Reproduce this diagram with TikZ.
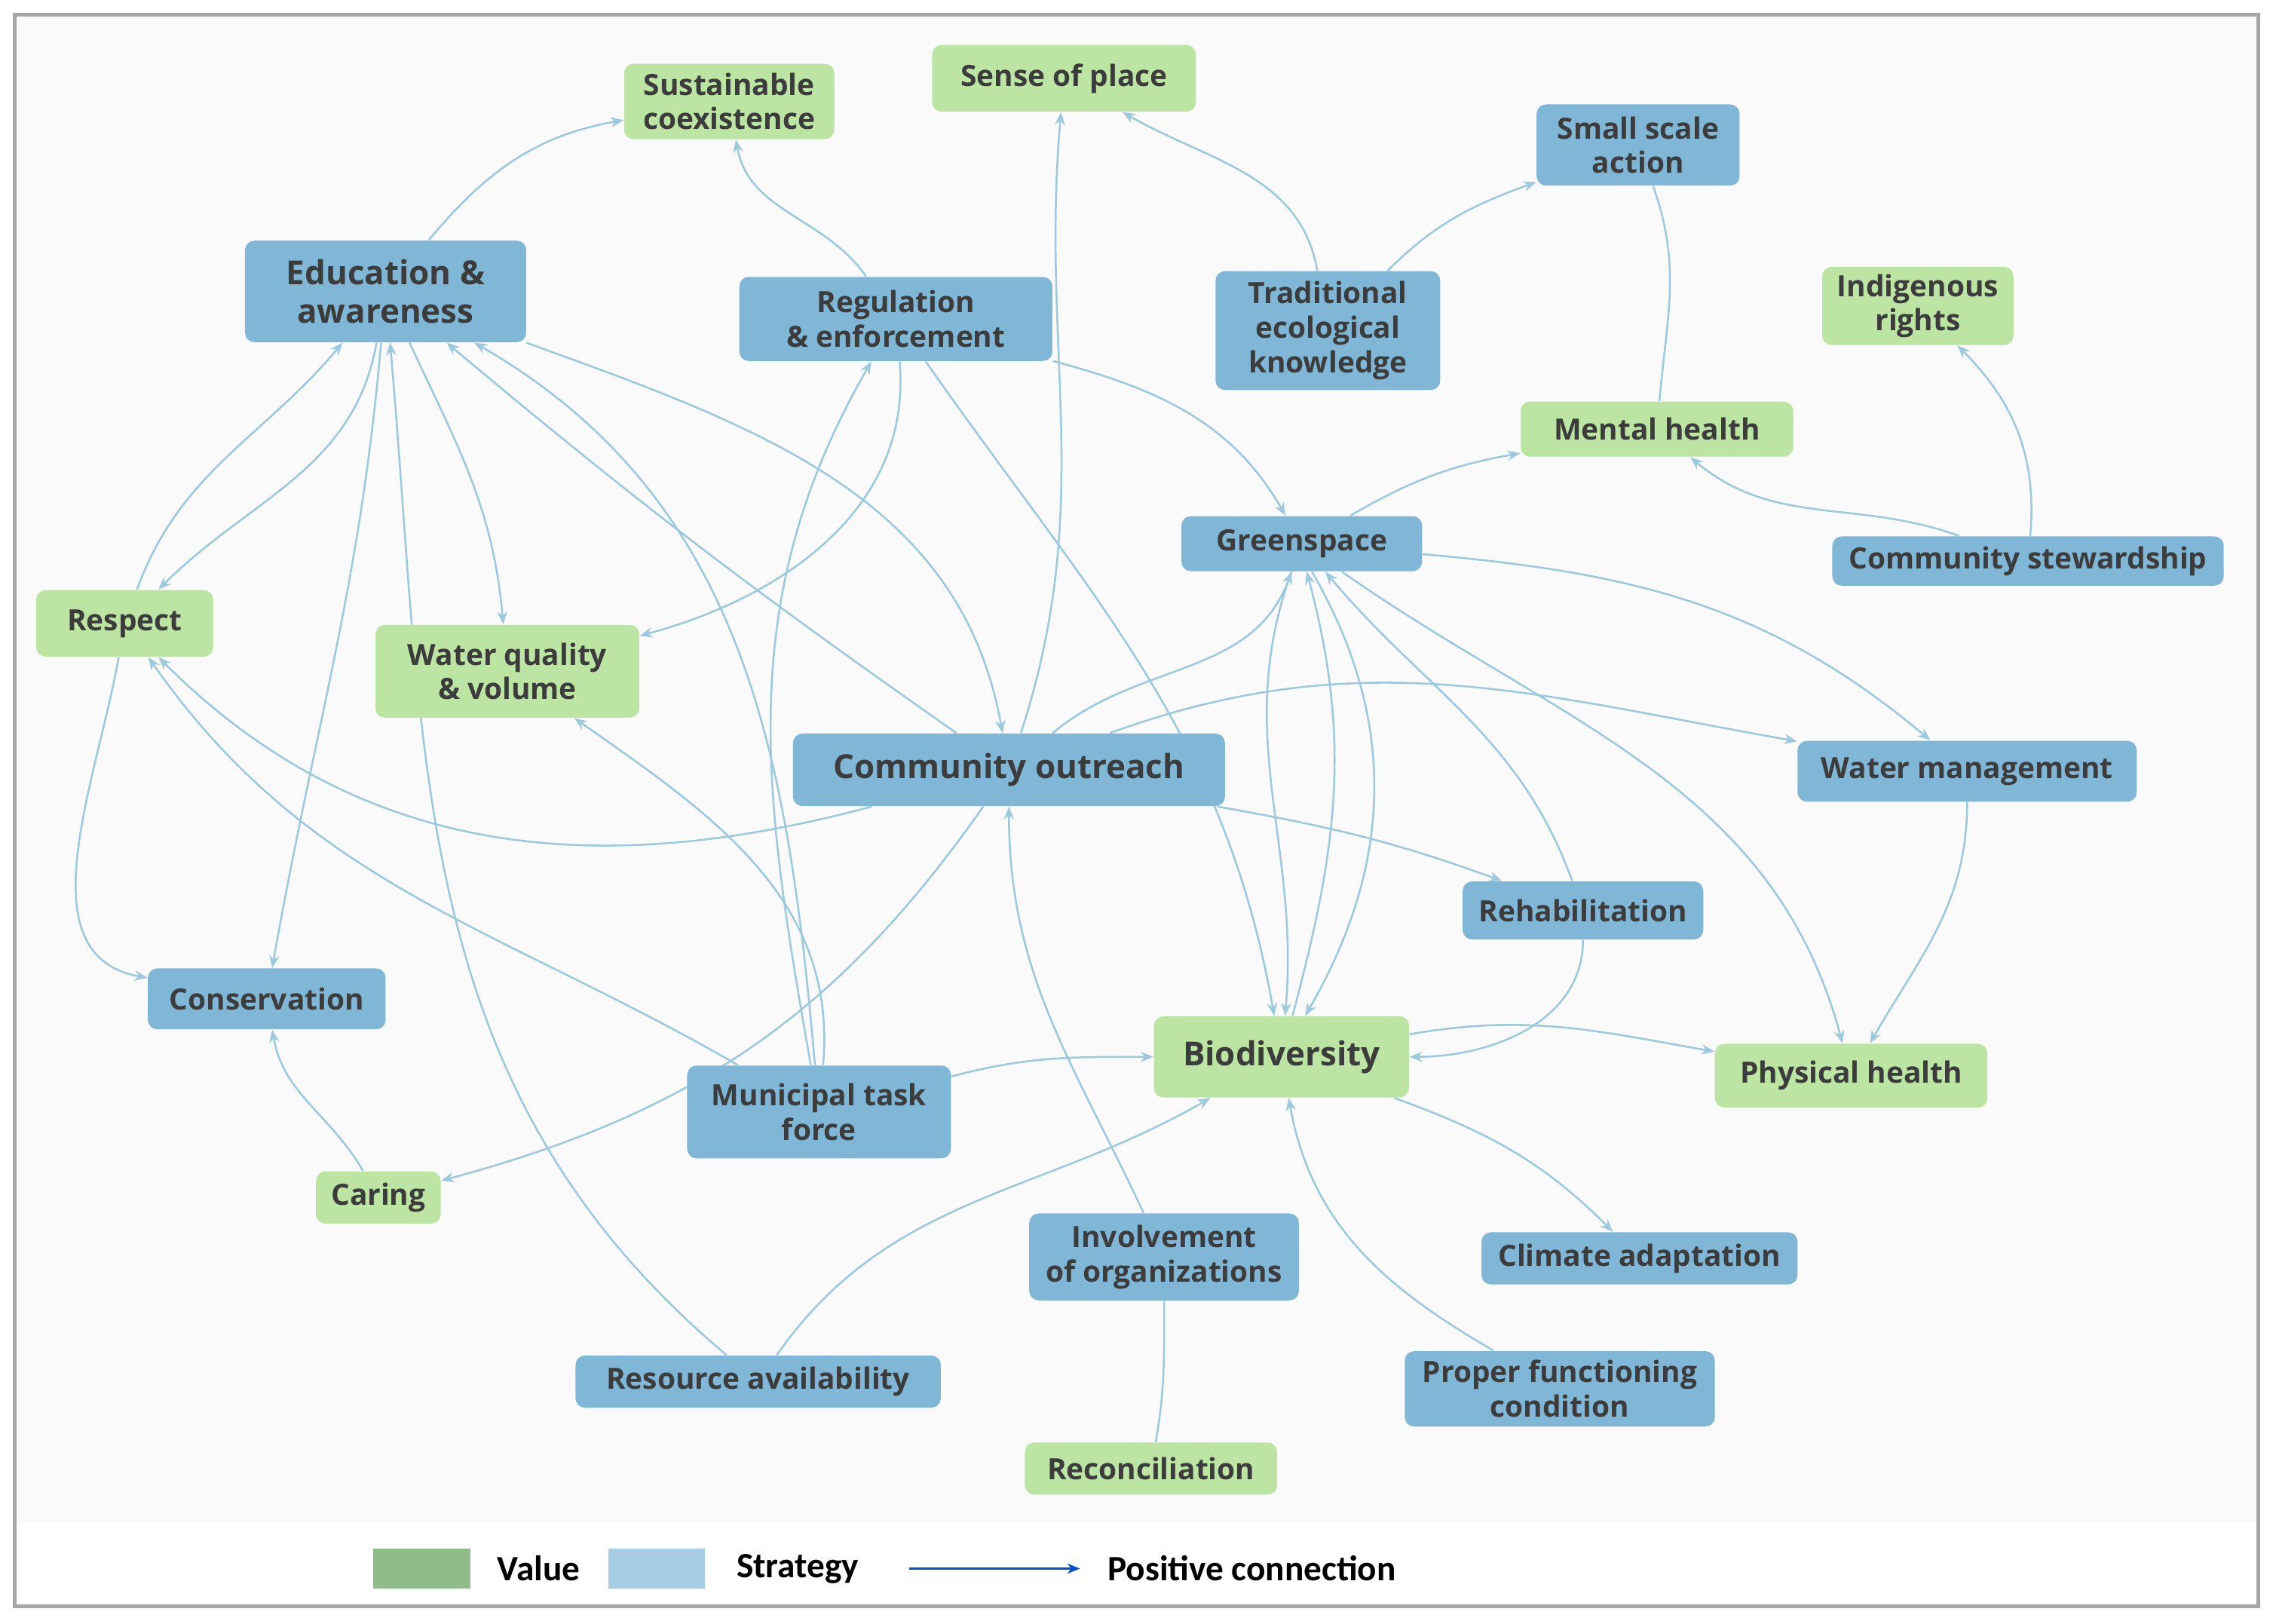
\documentclass[tikz,border=0pt]{standalone}
\usepackage{fontspec}
\setmainfont{Open Sans}
\newfontfamily\legfont{Carlito}
\usetikzlibrary{arrows.meta}
\pgfdeclarelayer{edges}\pgfdeclarelayer{bg}
\pgfsetlayers{bg,edges,main}
\definecolor{gfill}{HTML}{BCE4A3}
\definecolor{bfill}{HTML}{80B7D7}
\definecolor{txt}{HTML}{3C3C3C}
\definecolor{ecol}{HTML}{9CC9DD}
\begin{document}
\begin{tikzpicture}[x=0.02cm,y=0.02cm,
 sz/.style 2 args={minimum width=#1*0.02cm,minimum height=#2*0.02cm},
 base/.style={rounded corners=0.13cm,align=center,text=txt,font=\bfseries\fontsize{11.5}{13.5}\selectfont,inner sep=0pt},
 val/.style={base,fill=gfill},
 str/.style={base,fill=bfill},
 big/.style={font=\bfseries\fontsize{13}{15}\selectfont},
 e/.style={draw=ecol,line width=0.75pt,-{Stealth[length=5pt,width=4pt]}},
 p/.style={draw=ecol,line width=0.75pt}]
\useasboundingbox (0,0) rectangle (1568,-1120);
\begin{pgfonlayer}{bg}
\fill[white] (0,0) rectangle (1568,-1120);
\fill[black!2] (12,-12) rectangle (1556,-1050);
\draw[gray!70,line width=1.5pt] (10,-10) rectangle (1558,-1108);
\end{pgfonlayer}
\node[val,sz={145}{52}] (sust) at (503,-70) {Sustainable\\coexistence};
\node[val,sz={182}{46}] (sense) at (734,-54) {Sense of place};
\node[str,sz={140}{56}] (small) at (1130,-100) {Small scale\\action};
\node[str,big,sz={194}{70}] (edu) at (266,-201) {Education \&\\awareness};
\node[str,sz={216}{58}] (reg) at (618,-220) {Regulation\\\& enforcement};
\node[str,sz={155}{82}] (tek) at (916,-228) {Traditional\\ecological\\knowledge};
\node[val,sz={132}{54}] (ind) at (1323,-211) {Indigenous\\rights};
\node[val,sz={188}{38}] (mental) at (1143,-296) {Mental health};
\node[str,sz={166}{38}] (green) at (898,-375) {Greenspace};
\node[str,sz={270}{34}] (stew) at (1399,-387) {Community stewardship};
\node[val,sz={122}{46}] (resp) at (86,-430) {Respect};
\node[val,sz={182}{64}] (wq) at (350,-463) {Water quality\\\& volume};
\node[str,big,sz={298}{50}] (co) at (696,-531) {Community outreach};
\node[str,sz={234}{42}] (wm) at (1357,-532) {Water management};
\node[str,sz={166}{40}] (rehab) at (1092,-628) {Rehabilitation};
\node[str,sz={164}{42}] (cons) at (184,-689) {Conservation};
\node[val,big,sz={176}{56}] (bio) at (884,-729) {Biodiversity};
\node[val,sz={188}{44}] (phys) at (1277,-742) {Physical health};
\node[str,sz={182}{64}] (mun) at (565,-767) {Municipal task\\force};
\node[val,sz={86}{36}] (caring) at (261,-826) {Caring};
\node[str,sz={186}{60}] (inv) at (803,-867) {Involvement\\of organizations};
\node[str,sz={218}{36}] (clim) at (1131,-868) {Climate adaptation};
\node[str,sz={252}{36}] (res) at (523,-953) {Resource availability};
\node[str,sz={214}{52}] (prop) at (1076,-958) {Proper functioning\\condition};
\node[val,sz={174}{36}] (rec) at (794,-1013) {Reconciliation};
\begin{pgfonlayer}{edges}
\draw[e] (edu) to[out=50,in=190] (sust);
\draw[e] (reg) to[out=125,in=-80] (sust);
\draw[e] (co) to[out=72,in=-95] (sense);
\draw[e] (tek) to[out=100,in=-30] (sense);
\draw[e] (tek) to[out=45,in=200] (small);
\draw[p] (small) to[out=-70,in=85] (mental);
\draw[e] (stew) to[out=85,in=-45] (ind);
\draw[e] (stew) to[out=160,in=-40] (mental);
\draw[e] (green) to[out=30,in=190] (mental);
\draw[e] (reg) to[out=-15,in=120] (green);
\draw[e] (edu) to[out=-100,in=45] (resp);
\draw[e] (resp) to[out=70,in=-130] (edu);
\draw[e] (edu) to[out=-65,in=95] (wq);
\draw[e] (edu) to[out=-95,in=80] (cons);
\draw[e] (res) to[out=140,in=-85] (edu);
\draw[e] (co) to[out=145,in=-40] (edu);
\draw[e] (edu) to[out=-20,in=100] (co);
\draw[e] (mun) to[out=95,in=-30] (edu);
\draw[e] (reg) to[out=-85,in=15] (wq);
\draw[e] (mun) to[out=100,in=-120] (reg);
\draw[e] (reg) to[out=-55,in=100] (bio);
\draw[e] (co) to[out=40,in=-110] (green);
\draw[e] (co) to[out=20,in=170] (wm);
\draw[e] (co) to[out=-10,in=160] (rehab);
\draw[e] (co) to[out=-165,in=-45] (resp);
\draw[e] (mun) to[out=150,in=-55] (resp);
\draw[e] (co) to[out=-125,in=15] (caring);
\draw[e] (resp) to[out=-100,in=170] (cons);
\draw[e] (caring) to[out=120,in=-80] (cons);
\draw[e] (mun) to[out=85,in=-35] (wq);
\draw[e] (mun) to[out=15,in=180] (bio);
\draw[e] (res) to[out=55,in=-150] (bio);
\draw[e] (inv) to[out=115,in=-90] (co);
\draw[p] (rec) to[out=80,in=-90] (inv);
\draw[e] (green) to[out=-110,in=85] (bio);
\draw[e] (bio.75) to[out=75,in=-75] (green.-80);
\draw[e] (green.-70) to[out=-60,in=60] (bio.60);
\draw[e] (rehab) to[out=110,in=-50] (green);
\draw[e] (green) to[out=-35,in=105] (phys);
\draw[e] (green) to[out=-5,in=140] (wm);
\draw[e] (wm) to[out=-90,in=60] (phys);
\draw[e] (bio) to[out=10,in=170] (phys);
\draw[e] (rehab) to[out=-90,in=0] (bio);
\draw[e] (bio) to[out=-20,in=135] (clim);
\draw[e] (prop) to[out=150,in=-80] (bio);
\end{pgfonlayer}
% legend
\node[fill=gfill!60!green!60!black!60,sz={67}{28},inner sep=0] (lv) at (291,-1082) {};
\node[anchor=west,font=\legfont\bfseries\fontsize{14}{16}\selectfont] (lvt) at (337,-1082) {Value};
\node[fill=bfill!70!white,sz={67}{28},inner sep=0] (ls) at (453,-1082) {};
\node[anchor=west,font=\legfont\bfseries\fontsize{14}{16}\selectfont] (lst) at (502,-1082) {Strategy};
\coordinate (la) at (627,-1082);
\coordinate (lb) at (745,-1082);
\draw[-{Stealth[length=5pt,width=4pt]},draw=blue!60!cyan!80!black,line width=0.8pt] (la) -- (lb);
\node[anchor=west,font=\legfont\bfseries\fontsize{14}{16}\selectfont] (lat) at (758,-1082) {Positive connection};
\end{tikzpicture}
\end{document}
